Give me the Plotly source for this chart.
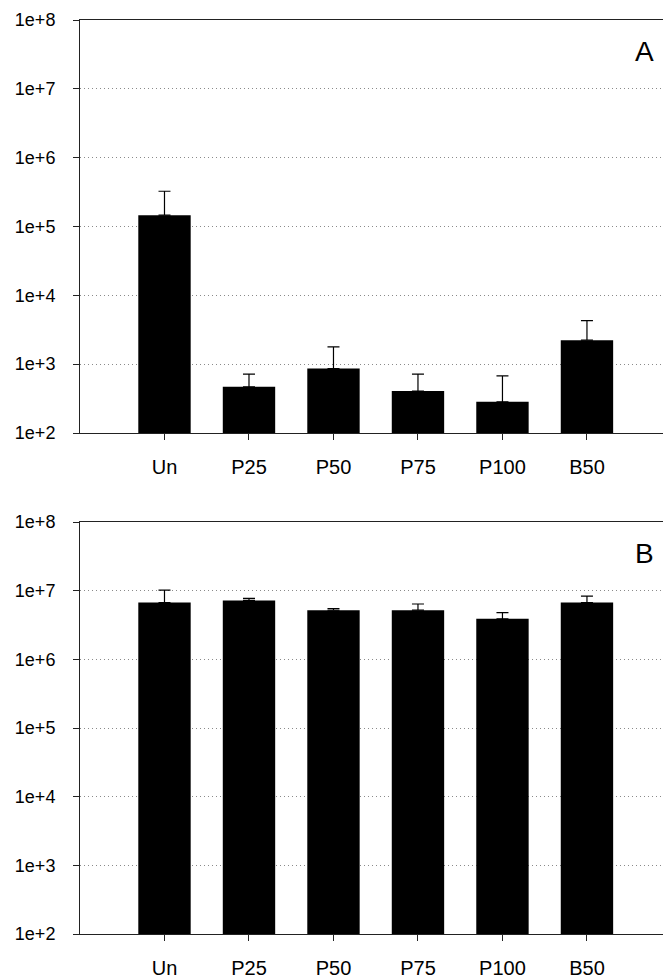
import plotly.graph_objects as go
from plotly.subplots import make_subplots

categories = ["Un", "P25", "P50", "P75", "P100", "B50"]

# Panel A values and upper error
values_a = [1.46e5, 469, 865, 406, 284, 2228]
upper_a = [3.25e5, 716, 1782, 716, 678, 4296]

# Panel B values and upper error
values_b = [6.7e6, 7.2e6, 5.2e6, 5.2e6, 3.9e6, 6.7e6]
upper_b = [1.02e7, 7.7e6, 5.5e6, 6.4e6, 4.8e6, 8.3e6]

tick_vals = [1e2, 1e3, 1e4, 1e5, 1e6, 1e7, 1e8]
tick_text = ["1e+2", "1e+3", "1e+4", "1e+5", "1e+6", "1e+7", "1e+8"]
panel_labels = ["A", "B"]

W, H = 663, 980
top_px, bot_px = 20, 934
plot_h = bot_px - top_px
a_bottom = (bot_px - 433) / plot_h
b_top = (bot_px - 522) / plot_h

fig = make_subplots(rows=2, cols=1, vertical_spacing=0.05)

for i, (vals, ups) in enumerate([(values_a, upper_a), (values_b, upper_b)], start=1):
    plus = [u - v for u, v in zip(ups, vals)]
    fig.add_trace(go.Bar(
        x=categories, y=vals, width=0.62,
        marker=dict(color="black", line=dict(width=0)),
        error_y=dict(type="data", symmetric=False, array=plus,
                     arrayminus=[0] * len(vals), color="black",
                     thickness=1.2, width=6),
        showlegend=False,
    ), row=i, col=1)

axis_common_x = dict(
    range=[-1.0, 5.9], showline=True, linecolor="#222", linewidth=1,
    mirror=True, ticks="outside", ticklen=6, tickcolor="#222",
    tickfont=dict(family="Arial, Liberation Sans", size=20, color="black"),
    ticklabelstandoff=10, showgrid=False, zeroline=False,
)
axis_common_y = dict(
    type="log", range=[2, 8], tickvals=tick_vals, ticktext=tick_text,
    showline=True, linecolor="#222", linewidth=1, mirror=False,
    ticks="outside", ticklen=6, tickcolor="#222",
    tickfont=dict(family="Arial, Liberation Sans", size=18, color="black"),
    ticklabelstandoff=14,
    showgrid=True, gridcolor="#8a8a8a", gridwidth=1, griddash="1px,3px",
    zeroline=False,
)

fig.update_xaxes(**axis_common_x)
fig.update_yaxes(**axis_common_y)
fig.update_layout(
    yaxis=dict(domain=[a_bottom, 1.0]),
    yaxis2=dict(domain=[0.0, b_top]),
)

plot_w = W - 80
for lbl, ytop in zip(panel_labels, [1.0, b_top]):
    fig.add_annotation(
        x=(644 - 80) / plot_w, y=ytop, xref="paper", yref="paper",
        text=lbl, showarrow=False, xanchor="center", yanchor="middle",
        font=dict(family="Arial, Liberation Sans", size=28, color="black"),
        yshift=-31,
    )

fig.update_layout(
    width=W, height=H,
    margin=dict(l=80, r=0, t=top_px, b=H - bot_px),
    plot_bgcolor="white", paper_bgcolor="white",
    bargap=0.38,
)

fig.write_html("out.html")
